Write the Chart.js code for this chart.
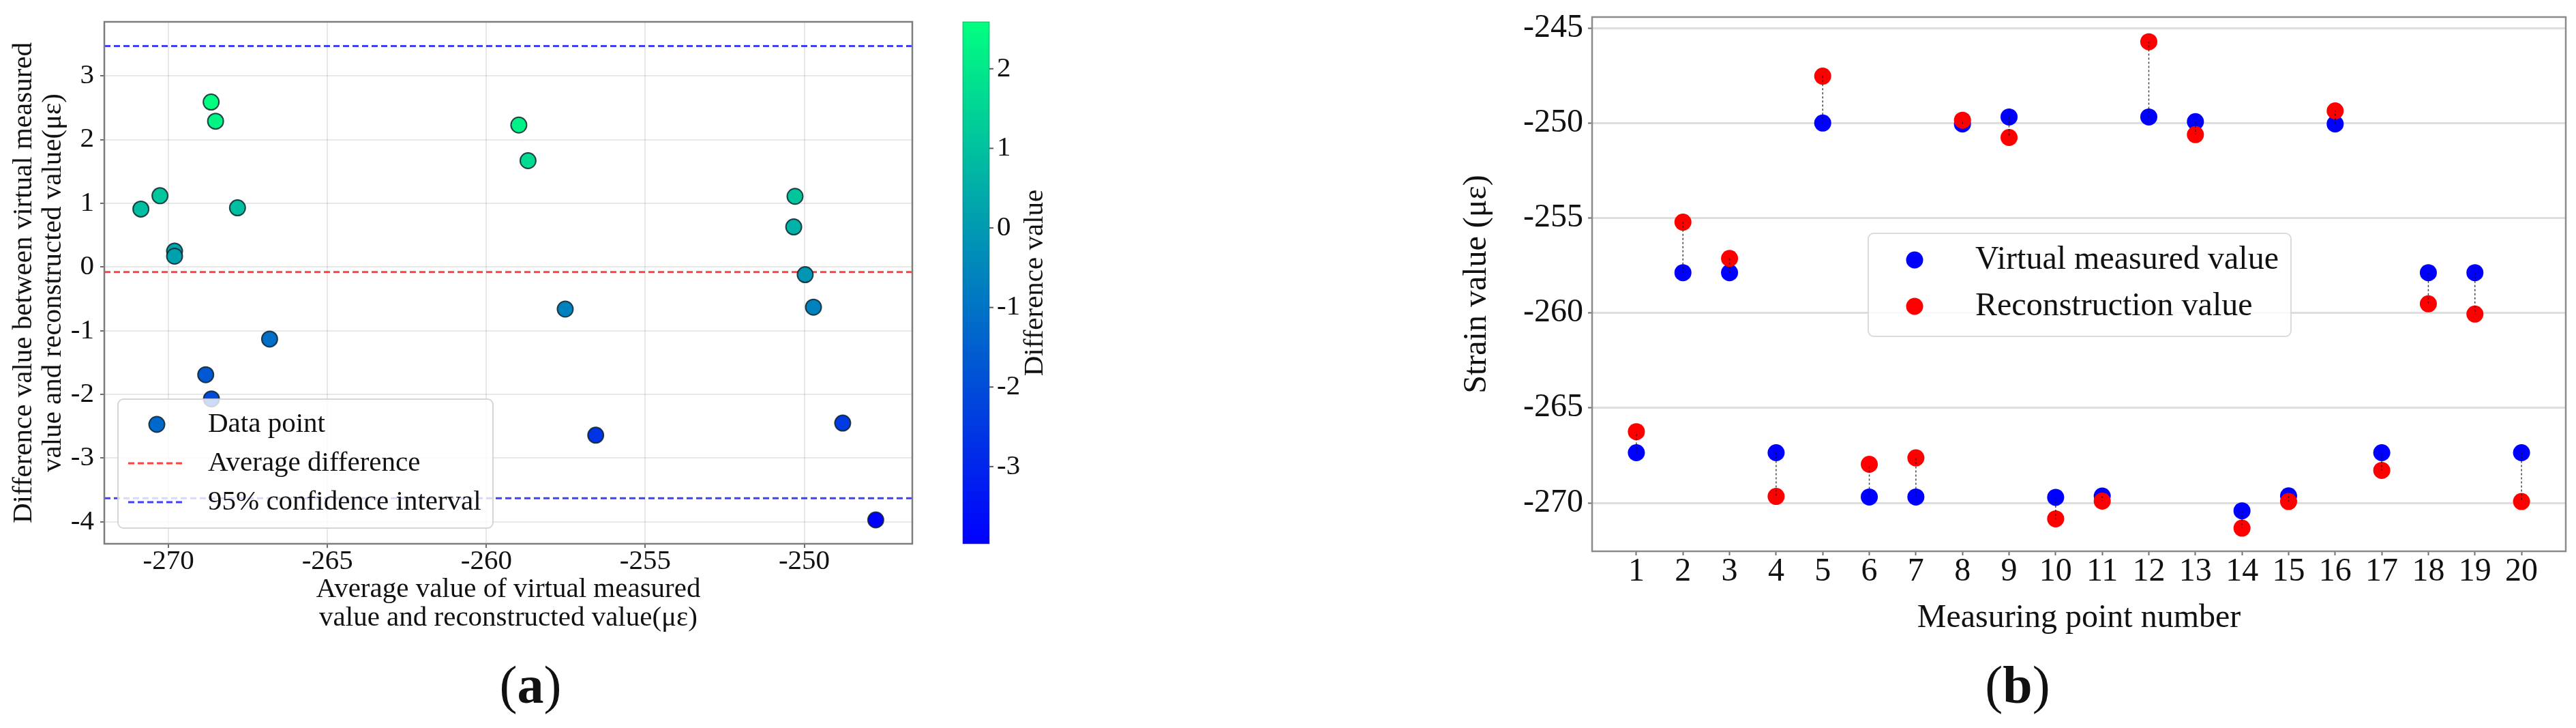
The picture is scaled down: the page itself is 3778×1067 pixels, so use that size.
<!DOCTYPE html>
<html>
<head>
<meta charset="utf-8">
<script src="https://cdn.jsdelivr.net/npm/chart.js@4.4.0/dist/chart.umd.min.js"></script>
<style>
  html, body { margin: 0; padding: 0; background: #fff; }
  body { width: 3778px; height: 1067px; position: relative; overflow: hidden; }
  canvas { position: absolute; top: 0; }
  #chart-a { left: 0; }
  #chart-b { left: 2100px; }
</style>
</head>
<body>
<canvas id="chart-a" width="1600" height="1067"></canvas>
<canvas id="chart-b" width="1678" height="1067"></canvas>
<script>
// (a) difference vs average
const avgValues = [-270.87, -270.27, -269.81, -269.81, -268.66, -268.52, -267.83, -268.83, -268.65, -266.82,
  -258.98, -258.69, -257.52, -256.56, -250.29, -250.33, -249.97, -249.71, -248.79, -247.75]
const diffValues = [0.91, 1.12, 0.25, 0.17, 2.59, 2.29, 0.93, -1.69, -2.07, -1.13,
  2.23, 1.67, -0.66, -2.64, 1.11, 0.63, -0.12, -0.63, -2.45, -3.97]
const meanDiff = -0.08
const upperLimit = 3.47
const lowerLimit = -3.63
const xTicksA = [-270, -265, -260, -255, -250]
const yTicksA = [-4, -3, -2, -1, 0, 1, 2, 3]
const colorbarTicks = [-3, -2, -1, 0, 1, 2]

// (b) strain per measuring point
const pointNumbers = [1, 2, 3, 4, 5, 6, 7, 8, 9, 10, 11, 12, 13, 14, 15, 16, 17, 18, 19, 20]
const virtualValues = [-267.36, -257.88, -257.88, -267.36, -250.00, -269.69, -269.69, -250.05, -249.68, -269.71,
  -269.64, -249.68, -249.93, -270.42, -269.63, -250.05, -267.36, -257.88, -257.88, -267.36]
const reconValues = [-266.25, -255.22, -257.13, -269.66, -247.53, -267.97, -267.63, -249.85, -250.76, -270.84,
  -269.91, -245.72, -250.61, -271.33, -269.93, -249.36, -268.29, -259.52, -260.06, -269.93]
const yTicksB = [-270, -265, -260, -255, -250, -245]

const serif = '"Liberation Serif", "Times New Roman", serif'
Chart.defaults.font.family = serif
Chart.defaults.color = '#111'

const diffMin = Math.min(...diffValues)
const diffMax = Math.max(...diffValues)
const winter = (v) => {
  const t = (v - diffMin) / (diffMax - diffMin)
  return `rgb(0, ${Math.round(255 * t)}, ${Math.round(255 * (1 - 0.5 * t))})`
}
const setTicks = (values) => (scale) => { scale.ticks = values.map(v => ({ value: v })) }

const xLimA = [-272.02, -246.6]
const yLimA = [-4.345, 3.85]
const xLimB = [0.05, 20.95]
const yLimB = [-272.55, -244.42]

const drawLabel = (ctx, letter, cx, baseline) => {
  ctx.save()
  ctx.fillStyle = '#111'
  ctx.textBaseline = 'alphabetic'
  ctx.textAlign = 'left'
  const normal = `78px ${serif}`
  const bold = `bold 78px ${serif}`
  ctx.font = normal
  const wp = ctx.measureText('(').width
  ctx.font = bold
  const wl = ctx.measureText(letter).width
  let x = cx - (2 * wp + wl) / 2
  ctx.font = normal
  ctx.fillText('(', x, baseline)
  ctx.font = bold
  ctx.fillText(letter, x + wp, baseline)
  ctx.font = normal
  ctx.fillText(')', x + wp + wl, baseline)
  ctx.restore()
}

const roundBox = (ctx, x, y, w, h, r) => {
  ctx.beginPath()
  ctx.moveTo(x + r, y)
  ctx.arcTo(x + w, y, x + w, y + h, r)
  ctx.arcTo(x + w, y + h, x, y + h, r)
  ctx.arcTo(x, y + h, x, y, r)
  ctx.arcTo(x, y, x + w, y, r)
  ctx.closePath()
}

const decorA = {
  id: 'decorA',
  afterDraw(chart) {
    const ctx = chart.ctx
    const { left, right, top, bottom } = chart.chartArea
    ctx.save()
    ctx.strokeStyle = 'rgb(125,125,125)'
    ctx.lineWidth = 2.5
    ctx.strokeRect(left, top, right - left, bottom - top)

    // legend
    const ds = chart.data.datasets
    roundBox(ctx, 173, 585, 550, 189, 8)
    ctx.fillStyle = 'rgba(255,255,255,0.8)'
    ctx.fill()
    ctx.strokeStyle = 'rgba(210,210,210,0.9)'
    ctx.lineWidth = 2
    ctx.stroke()
    ctx.beginPath()
    ctx.arc(230, 622, 11.5, 0, Math.PI * 2)
    ctx.fillStyle = 'rgb(0,104,203)'
    ctx.fill()
    ctx.strokeStyle = 'rgba(15,35,45,0.85)'
    ctx.lineWidth = 2
    ctx.stroke()
    const rows = [[ds[1], 679], [ds[2], 736]]
    rows.forEach(([d, y]) => {
      ctx.beginPath()
      ctx.setLineDash(d.borderDash)
      ctx.strokeStyle = d.borderColor
      ctx.lineWidth = d.borderWidth
      ctx.moveTo(188, y)
      ctx.lineTo(272, y)
      ctx.stroke()
    })
    ctx.setLineDash([])
    ctx.fillStyle = '#111'
    ctx.font = `41px ${serif}`
    ctx.textBaseline = 'middle'
    ctx.textAlign = 'left'
    ctx.fillText(ds[0].label, 305, 622)
    ctx.fillText(ds[1].label, 305, 679)
    ctx.fillText(ds[2].label, 305, 736)

    // colorbar
    const cbL = 1412, cbR = 1451
    const grad = ctx.createLinearGradient(0, bottom, 0, top)
    grad.addColorStop(0, winter(diffMin))
    grad.addColorStop(1, winter(diffMax))
    ctx.fillStyle = grad
    ctx.fillRect(cbL, top, cbR - cbL, bottom - top)
    ctx.strokeStyle = 'rgba(60,60,60,0.5)'
    ctx.lineWidth = 1
    ctx.strokeRect(cbL, top, cbR - cbL, bottom - top)
    ctx.fillStyle = '#111'
    ctx.strokeStyle = 'rgb(90,90,90)'
    ctx.lineWidth = 2
    colorbarTicks.forEach(v => {
      const y = bottom - (v - diffMin) / (diffMax - diffMin) * (bottom - top)
      ctx.beginPath()
      ctx.moveTo(cbR, y)
      ctx.lineTo(cbR + 6, y)
      ctx.stroke()
      ctx.fillText(String(v), 1462, y)
    })
    ctx.translate(1518, (top + bottom) / 2)
    ctx.rotate(-Math.PI / 2)
    ctx.textAlign = 'center'
    ctx.fillText('Difference value', 0, 0)
    ctx.restore()

    drawLabel(ctx, 'a', 778, 1030)
  }
}

new Chart(document.getElementById('chart-a'), {
  type: 'scatter',
  data: {
    datasets: [
      {
        label: 'Data point',
        data: avgValues.map((x, i) => ({ x: x, y: diffValues[i] })),
        pointBackgroundColor: diffValues.map(winter),
        pointBorderColor: 'rgba(15,35,45,0.85)',
        pointBorderWidth: 2,
        pointRadius: 11.5,
        order: 0
      },
      {
        label: 'Average difference',
        data: [{ x: xLimA[0], y: meanDiff }, { x: xLimA[1], y: meanDiff }],
        showLine: true,
        pointRadius: 0,
        borderColor: 'rgba(255,0,0,0.75)',
        borderWidth: 3,
        borderDash: [9, 5],
        order: 1
      },
      {
        label: '95% confidence interval',
        data: [{ x: xLimA[0], y: upperLimit }, { x: xLimA[1], y: upperLimit }],
        showLine: true,
        pointRadius: 0,
        borderColor: 'rgba(0,0,255,0.75)',
        borderWidth: 3,
        borderDash: [9, 5],
        order: 1
      },
      {
        label: '95% confidence interval',
        data: [{ x: xLimA[0], y: lowerLimit }, { x: xLimA[1], y: lowerLimit }],
        showLine: true,
        pointRadius: 0,
        borderColor: 'rgba(0,0,255,0.75)',
        borderWidth: 3,
        borderDash: [9, 5],
        order: 1
      }
    ]
  },
  options: {
    responsive: false,
    animation: false,
    devicePixelRatio: 1,
    layout: { padding: { left: 0, top: 32, right: 262, bottom: 0 } },
    plugins: { legend: { display: false }, tooltip: { enabled: false } },
    scales: {
      x: {
        type: 'linear',
        min: xLimA[0],
        max: xLimA[1],
        bounds: 'data',
        afterBuildTicks: setTicks(xTicksA),
        afterFit: (s) => { s.height = 270 },
        ticks: { maxRotation: 0, autoSkip: false, padding: 0, font: { size: 41, lineHeight: 1 } },
        grid: { color: 'rgba(0,0,0,0.09)', lineWidth: 2, tickColor: 'rgb(110,110,110)', tickLength: 6, tickWidth: 2 },
        border: { display: false },
        title: {
          display: true,
          text: ['Average value of virtual measured', 'value and reconstructed value(με)'],
          font: { size: 41, lineHeight: 42 / 41 },
          padding: { top: 0, bottom: 140 }
        }
      },
      y: {
        type: 'linear',
        min: yLimA[0],
        max: yLimA[1],
        bounds: 'data',
        afterBuildTicks: setTicks(yTicksA),
        afterFit: (s) => { s.width = 153 },
        ticks: { autoSkip: false, padding: 9, font: { size: 41, lineHeight: 0.5 } },
        grid: { color: 'rgba(0,0,0,0.09)', lineWidth: 2, tickColor: 'rgb(110,110,110)', tickLength: 6, tickWidth: 2 },
        border: { display: false },
        title: {
          display: true,
          text: ['Difference value between virtual measured', 'value and reconstructed value(με)'],
          font: { size: 41, lineHeight: 43 / 41 },
          padding: { top: 13.5, bottom: 0 }
        }
      }
    }
  },
  plugins: [decorA]
})

const connectors = []
pointNumbers.forEach((n, i) => {
  connectors.push({ x: n, y: virtualValues[i] })
  connectors.push({ x: n, y: reconValues[i] })
  connectors.push({ x: n, y: null })
})

const decorB = {
  id: 'decorB',
  afterDraw(chart) {
    const ctx = chart.ctx
    const { left, right, top, bottom } = chart.chartArea
    const ds = chart.data.datasets
    ctx.save()
    ctx.strokeStyle = 'rgb(140,140,140)'
    ctx.lineWidth = 2.5
    ctx.strokeRect(left, top, right - left, bottom - top)

    roundBox(ctx, 640, 342, 620, 151, 8)
    ctx.fillStyle = 'rgba(255,255,255,0.8)'
    ctx.fill()
    ctx.strokeStyle = 'rgba(215,215,215,0.9)'
    ctx.lineWidth = 2
    ctx.stroke()
    const rows = [[ds[0], 381], [ds[1], 449]]
    ctx.font = `48px ${serif}`
    ctx.textBaseline = 'middle'
    ctx.textAlign = 'left'
    rows.forEach(([d, y]) => {
      ctx.beginPath()
      ctx.arc(708, y, 12.5, 0, Math.PI * 2)
      ctx.fillStyle = d.backgroundColor
      ctx.fill()
      ctx.fillStyle = '#111'
      ctx.fillText(d.label, 797, y)
    })
    ctx.restore()

    drawLabel(ctx, 'b', 859, 1030)
  }
}

new Chart(document.getElementById('chart-b'), {
  type: 'scatter',
  data: {
    datasets: [
      {
        label: 'Virtual measured value',
        data: pointNumbers.map((n, i) => ({ x: n, y: virtualValues[i] })),
        backgroundColor: 'rgb(0,0,255)',
        pointRadius: 12.5,
        pointBorderWidth: 0,
        order: 2
      },
      {
        label: 'Reconstruction value',
        data: pointNumbers.map((n, i) => ({ x: n, y: reconValues[i] })),
        backgroundColor: 'rgb(255,0,0)',
        pointRadius: 12.5,
        pointBorderWidth: 0,
        order: 1
      },
      {
        label: 'connector',
        data: connectors,
        showLine: true,
        spanGaps: false,
        pointRadius: 0,
        borderColor: 'rgba(20,20,20,0.8)',
        borderWidth: 1.5,
        borderDash: [3, 3],
        order: 0
      }
    ]
  },
  options: {
    responsive: false,
    animation: false,
    devicePixelRatio: 1,
    layout: { padding: { left: 0, top: 25, right: 15, bottom: 0 } },
    plugins: { legend: { display: false }, tooltip: { enabled: false } },
    scales: {
      x: {
        type: 'linear',
        min: xLimB[0],
        max: xLimB[1],
        bounds: 'data',
        afterBuildTicks: setTicks(pointNumbers),
        afterFit: (s) => { s.height = 259 },
        ticks: { maxRotation: 0, autoSkip: false, padding: 0, font: { size: 48, lineHeight: 1 } },
        grid: { drawOnChartArea: false, tickColor: 'rgb(110,110,110)', tickLength: 6, tickWidth: 2 },
        border: { display: false },
        title: {
          display: true,
          text: 'Measuring point number',
          font: { size: 48, lineHeight: 1 },
          padding: { top: 0, bottom: 137 }
        }
      },
      y: {
        type: 'linear',
        min: yLimB[0],
        max: yLimB[1],
        bounds: 'data',
        afterBuildTicks: setTicks(yTicksB),
        afterFit: (s) => { s.width = 235 },
        ticks: { autoSkip: false, padding: 7, font: { size: 48, lineHeight: 0.5 } },
        grid: { color: 'rgb(222,222,222)', lineWidth: 3, tickColor: 'rgb(110,110,110)', tickLength: 6, tickWidth: 2 },
        border: { display: false },
        title: {
          display: true,
          text: 'Strain value (με)',
          font: { size: 48, lineHeight: 1 },
          padding: { top: 42, bottom: 0 }
        }
      }
    }
  },
  plugins: [decorB]
})
</script>
</body>
</html>
